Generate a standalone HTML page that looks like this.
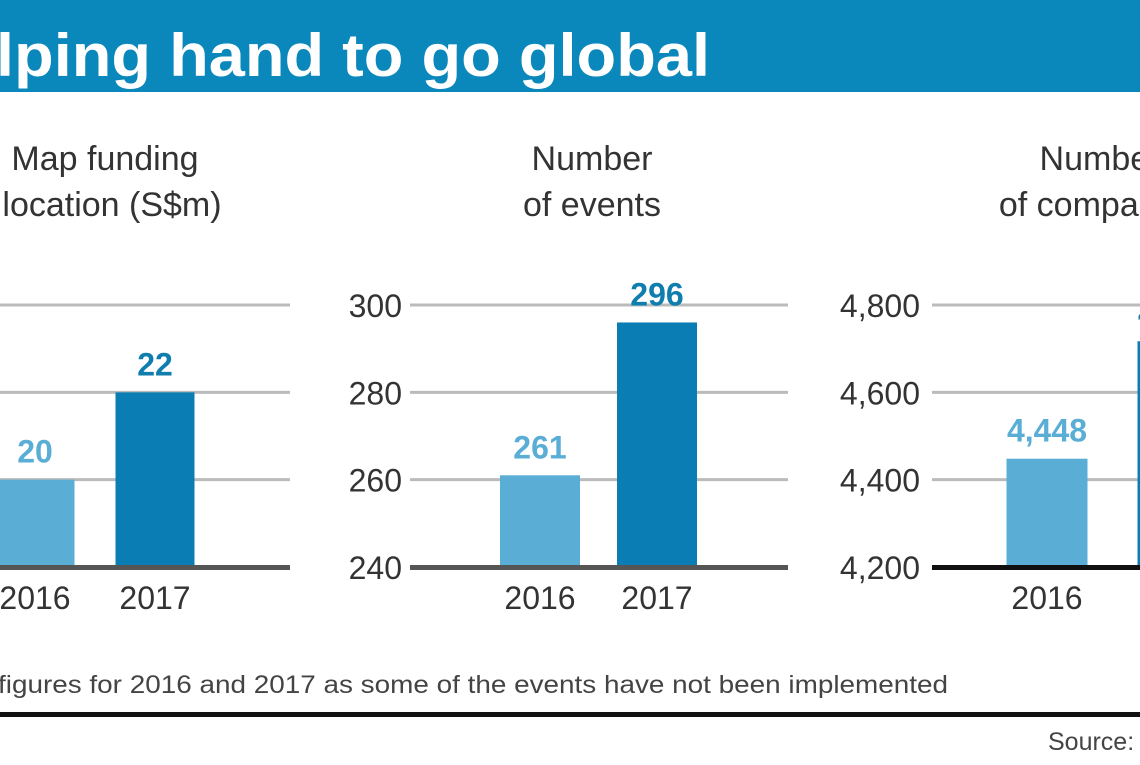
<!DOCTYPE html>
<html><head><meta charset="utf-8"><style>
body{margin:0;width:1140px;height:760px;overflow:hidden;background:#fff;font-family:"Liberation Sans","DejaVu Sans",sans-serif;}
</style></head><body>
<svg id="chart" width="1140" height="760" xmlns="http://www.w3.org/2000/svg" style="font-family:'Liberation Sans','DejaVu Sans',sans-serif">
<rect x="0" y="0" width="1140" height="92" fill="#0a87bb"/>
<text x="-4" y="76" font-size="60" font-weight="bold" fill="#fff" textLength="714" lengthAdjust="spacingAndGlyphs">lping hand to go global</text>
<g font-size="34" fill="#333" text-anchor="middle">
<text x="105" y="170">Map funding</text><text x="112" y="216">location (S$m)</text></g>
<g font-size="34" fill="#333" text-anchor="middle">
<text x="592" y="170">Number</text><text x="592" y="216">of events</text></g>
<g font-size="34" fill="#333" text-anchor="middle">
<text x="1100" y="170">Number</text><text x="1100" y="216">of companies</text></g>
<g id="plots"></g>
<text x="-2" y="693" font-size="25" fill="#444" textLength="950" lengthAdjust="spacingAndGlyphs">figures for 2016 and 2017 as some of the events have not been implemented</text>
<rect x="0" y="712" width="1140" height="5" fill="#111"/>
<text x="1048" y="750" font-size="25" fill="#444">Source:</text>
</svg>
<script>
const categories = ["2016", "2017"];
const fundingValues = [20, 22];
const fundingTicks = [18, 20, 22, 24];
const eventValues = [261, 296];
const eventTicks = [240, 260, 280, 300];
const companyValues = [4448, 4717];
const companyTicks = [4200, 4400, 4600, 4800];
const companyTickLabels = ["4,200", "4,400", "4,600", "4,800"];
const companyValueLabels = ["4,448", "4,717"];

const NS = "http://www.w3.org/2000/svg";
const root = document.getElementById("plots");
function mk(tag, attrs, parent, txt){
  const e = document.createElementNS(NS, tag);
  for (const k in attrs) e.setAttribute(k, attrs[k]);
  if (txt !== undefined) e.textContent = txt;
  (parent || root).appendChild(e);
  return e;
}
const yBase = 567, yTop = 305;
function panel(p){
  const g = mk("g", {});
  
  
  const min = p.ticks[0], max = p.ticks[p.ticks.length-1];
  const y = v => yBase - (v - min) / (max - min) * (yBase - yTop);
  p.ticks.forEach((t, i) => {
    if (i > 0) {
      const l = mk("line", {x1: p.gx0, x2: p.gx1, y1: y(t), y2: y(t), stroke: "#bbb", "stroke-width": 3}, g);
      
      
    }
    if (p.showTicks) {
      const tx = mk("text", {x: p.tickX, y: y(t) + 12, "font-size": 32, fill: "#333", "text-anchor": "end"}, g, p.tickLabels ? p.tickLabels[i] : String(t));
      
      
    }
  });
  p.values.forEach((v, i) => {
    const cx = p.centers[i];
    const b = mk("rect", {x: cx - p.bw/2, y: y(v), width: p.bw, height: yBase - y(v), fill: i ? "#0a7db5" : "#5aaed6"}, g);
    
    
    const lb = mk("text", {x: cx, y: y(v) - 17, "font-size": 32, "font-weight": "bold", fill: i ? "#0f7eae" : "#5aaed6", "text-anchor": "middle"}, g, p.valueLabels ? p.valueLabels[i] : String(v));
    
    
    const cl = mk("text", {x: cx, y: 609, "font-size": 32, fill: "#333", "text-anchor": "middle"}, g, categories[i]);
    
    
  });
  const ax = mk("rect", {x: p.gx0, y: yBase - 2, width: p.gx1 - p.gx0, height: 5, fill: p.axisColor}, g);
  
  
}
panel({name: "funding-chart", values: fundingValues, ticks: fundingTicks, gx0: 0, gx1: 290, centers: [35, 155], bw: 79, showTicks: false, axisColor: "#555"});
panel({name: "events-chart", values: eventValues, ticks: eventTicks, gx0: 410, gx1: 788, centers: [540, 657], bw: 80, showTicks: true, tickX: 402, axisColor: "#555"});
panel({name: "companies-chart", values: companyValues, ticks: companyTicks, tickLabels: companyTickLabels, valueLabels: companyValueLabels, gx0: 932, gx1: 1140, centers: [1047, 1178], bw: 81, showTicks: true, tickX: 920, axisColor: "#111"});
</script>
</body></html>
